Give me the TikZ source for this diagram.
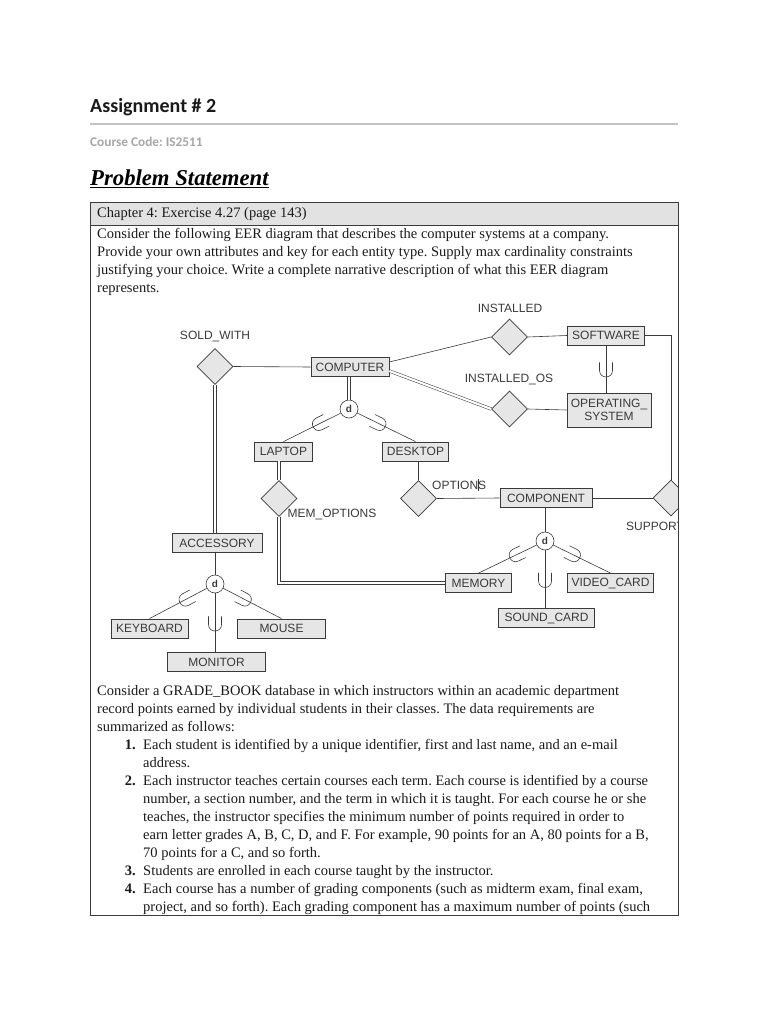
\documentclass[tikz,border=0pt]{standalone}
\usepackage{fontspec}
\setmainfont{Liberation Serif}
\setsansfont{Liberation Sans}
\newfontfamily\calib{Carlito}
\usetikzlibrary{shapes.geometric,decorations.markings,calc}
\definecolor{ln}{HTML}{3A3A3A}
\definecolor{boxfill}{HTML}{E6E6E6}
\definecolor{hdrfill}{HTML}{E2E2E2}
\definecolor{rulec}{HTML}{C4C4C4}
\definecolor{codegray}{HTML}{A6A6A6}
\definecolor{txtc}{HTML}{1A1A1A}
\frenchspacing
\begin{document}
\begin{tikzpicture}[x=1pt,y=-1pt,
  ent/.style={draw=ln, fill=boxfill, line width=0.8pt, minimum height=19pt, inner sep=0pt,
    font=\sffamily\fontsize{12}{13}\selectfont, text=ln},
  rel/.style={diamond, draw=ln, fill=boxfill, line width=0.6pt, minimum width=36pt,
    minimum height=36pt, inner sep=0pt, aspect=1},
  dcirc/.style={circle, draw=ln, fill=white, line width=0.6pt, minimum size=18pt, inner sep=0pt,
    font=\sffamily\bfseries\fontsize{10}{10}\selectfont, text=ln},
  lbl/.style={font=\sffamily\fontsize{12}{13}\selectfont, text=ln, inner sep=0pt},
  conn/.style={draw=ln, line width=0.6pt},
  dbl/.style={draw=ln, line width=0.5pt, double=white, double distance=2.2pt},
  subs/.style={conn, postaction={decorate, decoration={markings,
    mark=at position #1 with {\draw[ln, line width=0.6pt] (-8,6.5) -- (0,6.5)
      .. controls (8.7,6.5) and (8.7,-6.5) .. (0,-6.5) -- (-8,-6.5);}}}},
  txt/.style={anchor=base west, inner sep=0pt, text=txtc, font=\fontsize{14.5}{18}\selectfont},
  num/.style={anchor=base east, inner sep=0pt, text=txtc, font=\bfseries\fontsize{14.5}{18}\selectfont},
]
\useasboundingbox (0,0) rectangle (768,1024);
\fill[white] (0,0) rectangle (768,1024);

% ---------- header ----------
\node[anchor=base west, inner sep=0pt, text=txtc, font=\calib\bfseries\fontsize{20}{24}\selectfont] (title) at (90,113) {Assignment \# 2};
\draw[rulec, line width=2pt] (90,124) -- (678,124);
\node[anchor=base west, inner sep=0pt, text=codegray, font=\calib\bfseries\fontsize{13.3}{15}\selectfont] (code) at (90,147) {Course Code: IS2511};
\node[anchor=base west, inner sep=0pt, text=black, font=\bfseries\itshape\fontsize{22.7}{27}\selectfont] (ps) at (90,186) {\underline{Problem Statement}};

% ---------- frame ----------
\fill[hdrfill] (90,202) rectangle (678,225);
\draw[ln, line width=0.8pt] (90,225) -- (678,225);
\node[txt] (chap) at (97,218) {Chapter 4: Exercise 4.27 (page 143)};
\node[txt] (t1) at (97,238) {Consider the following EER diagram that describes the computer systems at a company.};
\node[txt] (t2) at (97,256) {Provide your own attributes and key for each entity type. Supply max cardinality constraints};
\node[txt] (t3) at (97,274) {justifying your choice. Write a complete narrative description of what this EER diagram};
\node[txt] (t4) at (97,292) {represents.};

% ---------- diagram ----------
\begin{scope}
\clip (90,225) rectangle (678,915);
\node[lbl] (linst) at (510,308) {INSTALLED};
\node[lbl] (lsold) at (215,337) {SOLD\_WITH};
\node[lbl] (linstos) at (509,380) {INSTALLED\_OS};
\node[lbl] (lmem) at (332,514) {MEM\_OPTIONS};
\node[lbl, anchor=west] (lopt) at (432,485) {OPTION\kern-0.4pt\rule[-1.5pt]{0.6pt}{12pt}\kern-0.4pt S};
\node[lbl, anchor=west] (lsup) at (626,526) {SUPPORTS};

\node[rel] (sold) at (215,366.5) {};
\node[rel] (inst) at (509.5,337) {};
\node[rel] (instos) at (509.5,409) {};
\node[rel] (memopt) at (279,498.5) {};
\node[rel] (opts) at (418.5,498.5) {};
\node[rel] (sup) at (671,498) {};

\node[ent, minimum width=78pt] (comp) at (350,367) {COMPUTER};
\node[ent, minimum width=77pt] (soft) at (606,335.5) {SOFTWARE};
\node[ent, minimum width=84pt, minimum height=34pt, align=center, font=\sffamily\fontsize{12}{12.5}\selectfont] (os) at (609,410) {OPERATING\_\\SYSTEM};
\node[ent, minimum width=58pt] (lap) at (283.5,451.5) {LAPTOP};
\node[ent, minimum width=66pt] (desk) at (415.5,451.5) {DESKTOP};
\node[ent, minimum width=92pt] (compo) at (546,498) {COMPONENT};
\node[ent, minimum width=90pt] (acc) at (217,543) {ACCESSORY};
\node[ent, minimum width=66pt] (memo) at (478.5,583) {MEMORY};
\node[ent, minimum width=86pt] (video) at (610.5,583) {VIDEO\_CARD};
\node[ent, minimum width=96pt] (sound) at (546.5,618) {SOUND\_CARD};
\node[ent, minimum width=77pt] (kbd) at (149.5,628.5) {KEYBOARD};
\node[ent, minimum width=88pt] (mouse) at (281.5,628.5) {MOUSE};
\node[ent, minimum width=98pt] (moni) at (216.5,662) {MONITOR};

\node[dcirc] (d1) at (349,409) {d};
\node[dcirc] (d2) at (545,541) {d};
\node[dcirc] (d3) at (215,584) {d};

% connectors
\draw[conn] (sold.east) -- (comp.west);
\draw[dbl] (sold.south) -- (sold.south |- acc.north);
\draw[conn] ([yshift=5pt]comp.east) -- (inst.west);
\draw[dbl] ([yshift=-4pt]comp.east) -- (instos.west);
\draw[conn] (inst.east) -- (soft.west);
\draw[conn] (instos.east) -- (os.west);
\draw[subs=0.53] (soft.south) -- (soft.south |- os.north);
\draw[conn] (soft.east) -| (sup.north);
\draw[conn] (compo.east) -- (sup.west);

\draw[dbl] (comp.south -| d1.north) -- (d1.north);
\draw[subs=0.38] (d1) -- (lap.north);
\draw[subs=0.38] (d1) -- (desk.north);
\draw[dbl] (memopt.north |- lap.south) -- (memopt.north);
\draw[dbl] (memopt.south) |- (memo.west);
\draw[conn] (opts.north |- desk.south) -- (opts.north);
\draw[conn] (opts.east) -- (compo.west);

\draw[conn] (compo.south -| d2.north) -- (d2.north);
\draw[subs=0.36] (d2) -- (memo.north);
\draw[subs=0.36] (d2) -- (video.north);
\draw[subs=0.53] (d2.south) -- (d2.south |- sound.north);

\draw[conn] (acc.south -| d3.north) -- (d3.north);
\draw[subs=0.37] (d3) -- (kbd.north);
\draw[subs=0.37] (d3) -- (mouse.north);
\draw[subs=0.53] (d3.south) -- (d3.south |- moni.north);
\end{scope}

% ---------- lower text ----------
\node[txt] (b1) at (97,695) {Consider a GRADE\_BOOK database in which instructors within an academic department};
\node[txt] (b2) at (97,713) {record points earned by individual students in their classes. The data requirements are};
\node[txt] (b3) at (97,731) {summarized as follows:};
\node[num] (n1) at (136,749) {1.};
\node[txt] (l1a) at (143,749) {Each student is identified by a unique identifier, first and last name, and an e-mail};
\node[txt] (l1b) at (143,767) {address.};
\node[num] (n2) at (136,785) {2.};
\node[txt] (l2a) at (143,785) {Each instructor teaches certain courses each term. Each course is identified by a course};
\node[txt] (l2b) at (143,803) {number, a section number, and the term in which it is taught. For each course he or she};
\node[txt] (l2c) at (143,821) {teaches, the instructor specifies the minimum number of points required in order to};
\node[txt] (l2d) at (143,839) {earn letter grades A, B, C, D, and F. For example, 90 points for an A, 80 points for a B,};
\node[txt] (l2e) at (143,857) {70 points for a C, and so forth.};
\node[num] (n3) at (136,875) {3.};
\node[txt] (l3a) at (143,875) {Students are enrolled in each course taught by the instructor.};
\node[num] (n4) at (136,893) {4.};
\node[txt] (l4a) at (143,893) {Each course has a number of grading components (such as midterm exam, final exam,};
\node[txt] (l4b) at (143,911) {project, and so forth). Each grading component has a maximum number of points (such};

\draw[ln, line width=0.9pt] (90,202) rectangle (678,915);
\end{tikzpicture}
\end{document}
